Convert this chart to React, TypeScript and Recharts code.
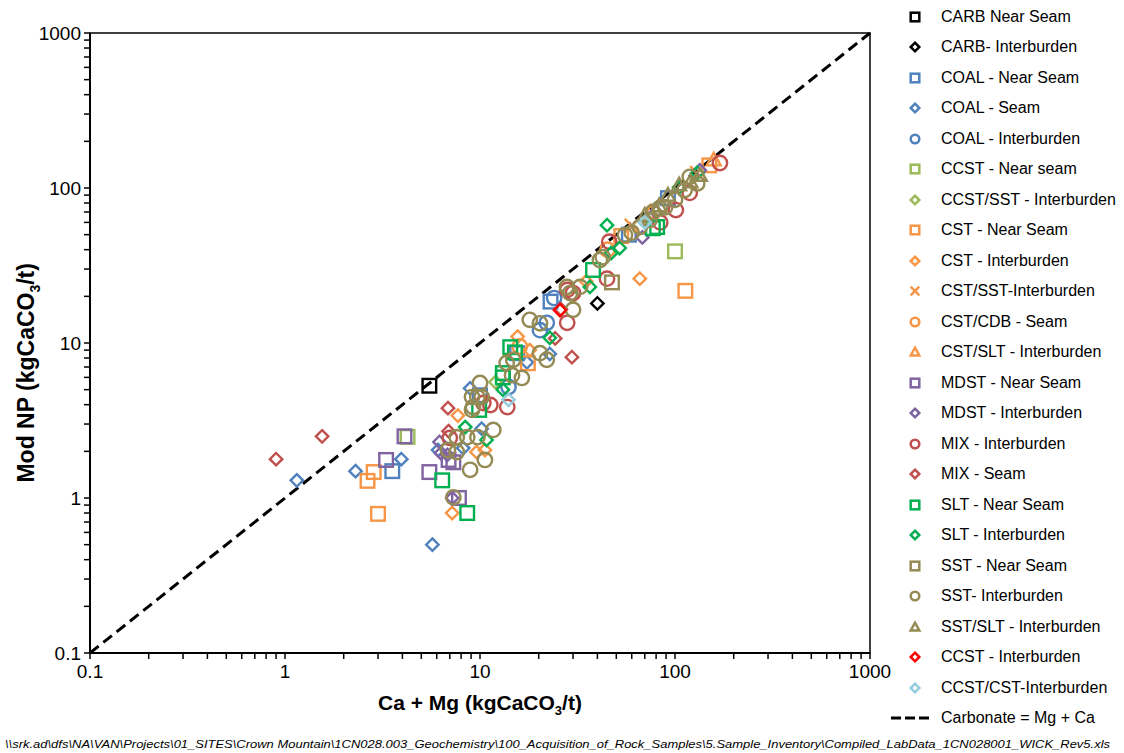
import { ScatterChart, Scatter, XAxis, YAxis, ReferenceLine, ReferenceArea } from "recharts";

type Pt = { x: number; y: number };
type Kind = "square" | "diamond" | "circle" | "cross" | "triangle";

// axis decades
const majorTicks = [0.1, 1, 10, 100, 1000];

// values (Ca + Mg vs Mod NP)
const carbNearSeam: Pt[] = [{ x: 5.5, y: 5.3 }];
const carbInter: Pt[] = [{ x: 40, y: 18 }];
const coalNearSeam: Pt[] = [
  { x: 3.55, y: 1.49 }, { x: 10, y: 4.6 }, { x: 23, y: 18.5 }, { x: 15.5, y: 8.6 }, { x: 58, y: 50 }, { x: 92, y: 86 },
];
const coalSeam: Pt[] = [
  { x: 1.15, y: 1.3 }, { x: 2.3, y: 1.49 }, { x: 3.95, y: 1.78 }, { x: 5.7, y: 0.5 }, { x: 8.9, y: 5.1 },
  { x: 6.1, y: 2.04 }, { x: 10.2, y: 2.8 }, { x: 8.2, y: 2.1 }, { x: 17.4, y: 7.5 }, { x: 22.8, y: 8.5 },
];
const coalInter: Pt[] = [
  { x: 20.3, y: 12.1 }, { x: 22, y: 13.5 }, { x: 24, y: 19.5 }, { x: 14, y: 5.2 },
];
const ccstNearSeam: Pt[] = [{ x: 4.25, y: 2.48 }, { x: 100, y: 39 }];
const ccstSstInter: Pt[] = [{ x: 12, y: 5.6 }, { x: 30, y: 20 }];
const cstNearSeam: Pt[] = [
  { x: 2.85, y: 1.47 }, { x: 2.65, y: 1.29 }, { x: 3.0, y: 0.79 }, { x: 113, y: 21.7 }, { x: 53, y: 49 },
  { x: 17.6, y: 7.4 }, { x: 150, y: 140 },
];
const cstInter: Pt[] = [
  { x: 66, y: 26 }, { x: 7.2, y: 0.8 }, { x: 7.7, y: 3.4 }, { x: 15.6, y: 11 }, { x: 10.6, y: 2.04 },
  { x: 9.6, y: 1.98 }, { x: 18, y: 9 }, { x: 35, y: 25 },
];
const cstSstInter: Pt[] = [{ x: 60, y: 57 }, { x: 130, y: 125 }];
const cstCdbSeam: Pt[] = [{ x: 16, y: 9.5 }, { x: 45, y: 40 }];
const cstSltInter: Pt[] = [{ x: 158, y: 152 }, { x: 75, y: 70 }];
const mdstNearSeam: Pt[] = [
  { x: 4.1, y: 2.5 }, { x: 3.3, y: 1.76 }, { x: 5.5, y: 1.47 }, { x: 7.8, y: 1.0 }, { x: 6.9, y: 1.76 }, { x: 7.3, y: 1.7 },
];
const mdstInter: Pt[] = [
  { x: 6.2, y: 2.3 }, { x: 6.3, y: 1.95 }, { x: 7.2, y: 1.0 }, { x: 68, y: 48 }, { x: 134, y: 130 },
  { x: 6.8, y: 1.9 }, { x: 80, y: 70 },
];
const mixInter: Pt[] = [
  { x: 170, y: 145 }, { x: 28, y: 13.5 }, { x: 30, y: 21 }, { x: 11.3, y: 3.98 }, { x: 13.8, y: 3.86 },
  { x: 7, y: 2.44 }, { x: 84, y: 60 }, { x: 28, y: 22 }, { x: 119, y: 93 }, { x: 101, y: 72 },
  { x: 46, y: 45 }, { x: 44.8, y: 26 }, { x: 10.4, y: 4.1 },
];
const mixSeam: Pt[] = [
  { x: 0.9, y: 1.78 }, { x: 1.55, y: 2.5 }, { x: 6.85, y: 3.8 }, { x: 6.9, y: 2.7 }, { x: 29.6, y: 8.1 },
  { x: 24.3, y: 10.7 }, { x: 26, y: 16.5 },
];
const sltNearSeam: Pt[] = [
  { x: 6.4, y: 1.3 }, { x: 8.6, y: 0.8 }, { x: 13.1, y: 6.4 }, { x: 9.9, y: 3.7 }, { x: 14.3, y: 9.4 },
  { x: 15.1, y: 8.7 }, { x: 13.1, y: 6.0 }, { x: 38, y: 29.6 }, { x: 77, y: 55 }, { x: 81, y: 56 },
];
const sltInter: Pt[] = [
  { x: 13.1, y: 5.0 }, { x: 10.8, y: 2.37 }, { x: 8.4, y: 2.87 }, { x: 22.8, y: 10.8 }, { x: 44.8, y: 57.6 },
  { x: 36.6, y: 23 }, { x: 52, y: 41 }, { x: 47, y: 38 }, { x: 130, y: 125 }, { x: 105, y: 101 },
];
const sstNearSeam: Pt[] = [{ x: 47.5, y: 24.6 }];
const sstInter: Pt[] = [
  { x: 10, y: 5.52 }, { x: 9.1, y: 4.48 }, { x: 10.2, y: 4.48 }, { x: 9.1, y: 3.7 }, { x: 11.7, y: 2.75 },
  { x: 7.6, y: 2.47 }, { x: 8.6, y: 2.47 }, { x: 9.7, y: 2.47 }, { x: 6.85, y: 2.04 }, { x: 7.6, y: 1.98 },
  { x: 10.6, y: 1.76 }, { x: 8.9, y: 1.52 }, { x: 7.3, y: 1.01 }, { x: 18, y: 14.1 }, { x: 20.3, y: 13.4 },
  { x: 13.7, y: 7.43 }, { x: 14.6, y: 6.2 }, { x: 16.4, y: 5.95 }, { x: 20.3, y: 8.6 }, { x: 22, y: 7.8 },
  { x: 9.7, y: 4.48 }, { x: 9.2, y: 3.86 }, { x: 14.8, y: 7.8 }, { x: 27.9, y: 23 }, { x: 41.2, y: 34.3 },
  { x: 42.6, y: 35.8 }, { x: 55.4, y: 49.7 }, { x: 60, y: 51.5 }, { x: 32.6, y: 23 }, { x: 29, y: 21 },
  { x: 30, y: 16.4 }, { x: 83.7, y: 74.3 }, { x: 77, y: 70 }, { x: 89, y: 75 }, { x: 100, y: 84 },
  { x: 119, y: 118 }, { x: 66, y: 56 }, { x: 74, y: 62 }, { x: 112, y: 97 }, { x: 130, y: 107 },
];
const sstSltInter: Pt[] = [
  { x: 134, y: 121 }, { x: 105, y: 105 }, { x: 83, y: 77 }, { x: 70, y: 67 }, { x: 120, y: 110 }, { x: 92, y: 90 },
];
const ccstInter: Pt[] = [{ x: 25.7, y: 16.3 }];
const ccstCstInter: Pt[] = [{ x: 70, y: 60 }, { x: 14, y: 4.3 }];

const series: { name: string; kind: Kind; color: string; data: Pt[] }[] = [
  { name: "CARB Near Seam", kind: "square", color: "#000000", data: carbNearSeam },
  { name: "CARB- Interburden", kind: "diamond", color: "#000000", data: carbInter },
  { name: "COAL - Near Seam", kind: "square", color: "#4F81BD", data: coalNearSeam },
  { name: "COAL - Seam", kind: "diamond", color: "#4F81BD", data: coalSeam },
  { name: "COAL - Interburden", kind: "circle", color: "#4F81BD", data: coalInter },
  { name: "CCST - Near seam", kind: "square", color: "#9BBB59", data: ccstNearSeam },
  { name: "CCST/SST - Interburden", kind: "diamond", color: "#9BBB59", data: ccstSstInter },
  { name: "CST - Near Seam", kind: "square", color: "#F79646", data: cstNearSeam },
  { name: "CST - Interburden", kind: "diamond", color: "#F79646", data: cstInter },
  { name: "CST/SST-Interburden", kind: "cross", color: "#F79646", data: cstSstInter },
  { name: "CST/CDB - Seam", kind: "circle", color: "#F79646", data: cstCdbSeam },
  { name: "CST/SLT - Interburden", kind: "triangle", color: "#F79646", data: cstSltInter },
  { name: "MDST - Near Seam", kind: "square", color: "#8064A2", data: mdstNearSeam },
  { name: "MDST - Interburden", kind: "diamond", color: "#8064A2", data: mdstInter },
  { name: "MIX - Interburden", kind: "circle", color: "#C0504D", data: mixInter },
  { name: "MIX - Seam", kind: "diamond", color: "#C0504D", data: mixSeam },
  { name: "SLT - Near Seam", kind: "square", color: "#00B050", data: sltNearSeam },
  { name: "SLT - Interburden", kind: "diamond", color: "#00B050", data: sltInter },
  { name: "SST - Near Seam", kind: "square", color: "#948A54", data: sstNearSeam },
  { name: "SST- Interburden", kind: "circle", color: "#948A54", data: sstInter },
  { name: "SST/SLT - Interburden", kind: "triangle", color: "#948A54", data: sstSltInter },
  { name: "CCST - Interburden", kind: "diamond", color: "#FF0000", data: ccstInter },
  { name: "CCST/CST-Interburden", kind: "diamond", color: "#93CDDD", data: ccstCstInter },
];

const allTicks: number[] = [];
majorTicks.slice(0, -1).forEach((d) => {
  for (let k = 1; k < 10; k++) allTicks.push(d * k);
});
allTicks.push(1000);

const FONT = '"Liberation Sans", Arial, sans-serif';

function Marker({ cx, cy, kind, color, s, sw }: { cx: number; cy: number; kind: Kind; color: string; s: number; sw: number }) {
  if (cx == null || cy == null) return <g />;
  if (kind === "square")
    return <rect x={cx - s} y={cy - s} width={2 * s} height={2 * s} fill="none" stroke={color} strokeWidth={sw} />;
  if (kind === "diamond")
    return (
      <polygon
        points={`${cx},${cy - s} ${cx + s},${cy} ${cx},${cy + s} ${cx - s},${cy}`}
        fill="none" stroke={color} strokeWidth={sw}
      />
    );
  if (kind === "circle") return <circle cx={cx} cy={cy} r={s} fill="none" stroke={color} strokeWidth={sw} />;
  if (kind === "cross")
    return (
      <path
        d={`M${cx - s},${cy - s}L${cx + s},${cy + s}M${cx + s},${cy - s}L${cx - s},${cy + s}`}
        stroke={color} strokeWidth={sw}
      />
    );
  return (
    <polygon
      points={`${cx},${cy - s} ${cx + s},${cy + s * 0.8} ${cx - s},${cy + s * 0.8}`}
      fill="none" stroke={color} strokeWidth={sw}
    />
  );
}

const plotSize = (k: Kind) => (k === "circle" ? 7.2 : k === "square" ? 6.8 : k === "diamond" ? 6.2 : 7);

export default function App() {
  return (
    <div style={{ position: "absolute", left: 0, top: 0, width: 1124, height: 753, background: "#fff", fontFamily: FONT }}>
      <div style={{ position: "absolute", left: 0, top: 0 }}>
        <ScatterChart width={900} height={720} margin={{ top: 33, right: 30, left: 0, bottom: 27 }}>
          <ReferenceArea x1={0.1} x2={1000} y1={0.1} y2={1000} fill="none" stroke="#000" strokeWidth={1.5} />
          <XAxis
            dataKey="x"
            type="number"
            scale="log"
            domain={[0.1, 1000]}
            ticks={allTicks}
            interval={0}
            allowDataOverflow
            height={40}
            tickSize={6}
            tickMargin={6}
            axisLine={{ stroke: "#000", strokeWidth: 2 }}
            tickLine={{ stroke: "#000", strokeWidth: 1.5 }}
            tick={{ fill: "#000", fontSize: 19, fontFamily: FONT }}
            tickFormatter={(v: number) => (majorTicks.includes(v) ? String(v) : "")}
          />
          <YAxis
            dataKey="y"
            type="number"
            scale="log"
            domain={[0.1, 1000]}
            ticks={allTicks}
            interval={0}
            allowDataOverflow
            width={90}
            tickSize={6}
            tickMargin={3}
            axisLine={{ stroke: "#000", strokeWidth: 2 }}
            tickLine={{ stroke: "#000", strokeWidth: 1.5 }}
            tick={{ fill: "#000", fontSize: 19, fontFamily: FONT }}
            tickFormatter={(v: number) => (majorTicks.includes(v) ? String(v) : "")}
          />
          {series.map((s) => (
            <Scatter
              key={s.name}
              name={s.name}
              data={s.data}
              isAnimationActive={false}
              shape={(p: any) => <Marker cx={p.cx} cy={p.cy} kind={s.kind} color={s.color} s={plotSize(s.kind)} sw={2.4} />}
            />
          ))}
          <ReferenceLine
            segment={[{ x: 0.1, y: 0.1 }, { x: 1000, y: 1000 }]}
            stroke="#000"
            strokeWidth={3}
            strokeDasharray="11 6"
          />
        </ScatterChart>
      </div>

      {/* axis titles */}
      <div style={{ position: "absolute", left: 280, width: 400, top: 691, textAlign: "center", fontWeight: "bold", fontSize: 21, color: "#000" }}>
        Ca + Mg (kgCaCO<sub style={{ fontSize: 13 }}>3</sub>/t)
      </div>
      <div
        style={{
          position: "absolute", left: 28, top: 372, width: 400, marginLeft: -200, marginTop: -14,
          transform: "rotate(-90deg)", textAlign: "center", fontWeight: "bold", fontSize: 23, color: "#000",
        }}
      >
        Mod NP (kgCaCO<sub style={{ fontSize: 14 }}>3</sub>/t)
      </div>

      {/* legend */}
      <div style={{ position: "absolute", left: 900, top: 0, width: 224 }}>
        {series.map((s, i) => (
          <div key={s.name} style={{ position: "absolute", top: 17 + i * 30.48 - 10, left: 0, height: 20, display: "flex", alignItems: "center", whiteSpace: "nowrap" }}>
            <svg width={30} height={20} style={{ display: "block" }}>
              <Marker cx={15} cy={10} kind={s.kind} color={s.color} s={4.3} sw={2.5} />
            </svg>
            <span style={{ marginLeft: 11, fontSize: 16, color: "#000" }}>{s.name}</span>
          </div>
        ))}
        <div style={{ position: "absolute", top: 17 + 23 * 30.48 - 10, left: 0, height: 20, display: "flex", alignItems: "center", whiteSpace: "nowrap" }}>
          <svg width={42} height={20} style={{ display: "block", marginLeft: -12 }}>
            <line x1={3} y1={10} x2={41} y2={10} stroke="#000" strokeWidth={3} strokeDasharray="10 4" />
          </svg>
          <span style={{ marginLeft: 11, fontSize: 16, color: "#000" }}>Carbonate = Mg + Ca</span>
        </div>
      </div>

      {/* file path footer */}
      <svg style={{ position: "absolute", left: 0, top: 736 }} width={1124} height={17}>
        <text
          x={5}
          y={12}
          fontSize={11}
          fontStyle="italic"
          fontFamily='"Liberation Sans Narrow", "Liberation Sans", Arial, sans-serif'
          textLength={1105}
          lengthAdjust="spacingAndGlyphs"
          fill="#000"
        >
          {"\\\\srk.ad\\dfs\\NA\\VAN\\Projects\\01_SITES\\Crown Mountain\\1CN028.003_Geochemistry\\100_Acquisition_of_Rock_Samples\\5.Sample_Inventory\\Compiled_LabData_1CN028001_WICK_Rev5.xls"}
        </text>
      </svg>
    </div>
  );
}
